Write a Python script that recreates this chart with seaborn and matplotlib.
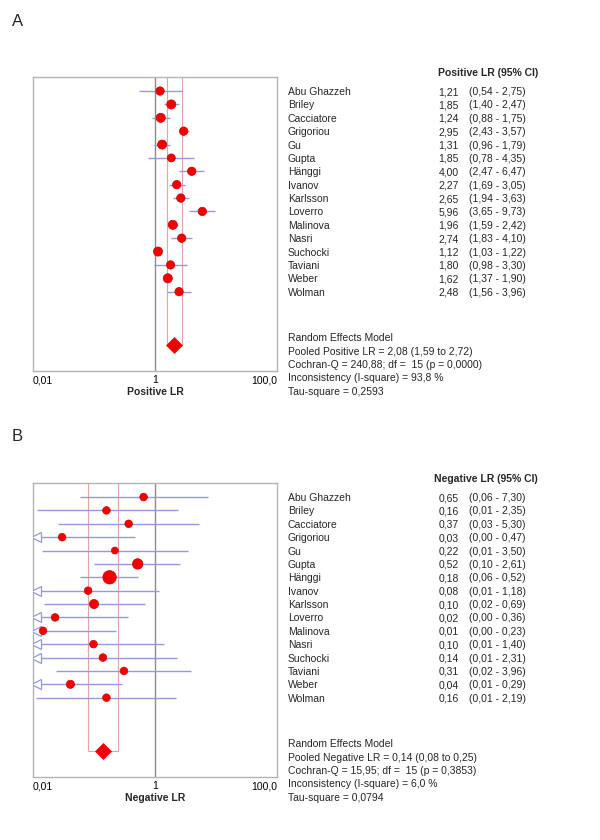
import matplotlib
matplotlib.use("Agg")
import matplotlib.pyplot as plt
import matplotlib.transforms as mtransforms
import numpy as np
import pandas as pd
import seaborn as sns

sns.set_theme(style="white")
plt.rcParams["font.family"] = ["Liberation Sans", "DejaVu Sans"]

studies = ["Abu Ghazzeh", "Briley", "Cacciatore", "Grigoriou", "Gu", "Gupta", "Hänggi",
           "Ivanov", "Karlsson", "Loverro", "Malinova", "Nasri", "Suchocki", "Taviani",
           "Weber", "Wolman"]

# positive likelihood ratios
pos_lr = [1.21, 1.85, 1.24, 2.95, 1.31, 1.85, 4.00, 2.27, 2.65, 5.96, 1.96, 2.74, 1.12, 1.80, 1.62, 2.48]
pos_lo = [0.54, 1.40, 0.88, 2.43, 0.96, 0.78, 2.47, 1.69, 1.94, 3.65, 1.59, 1.83, 1.03, 0.98, 1.37, 1.56]
pos_hi = [2.75, 2.47, 1.75, 3.57, 1.79, 4.35, 6.47, 3.05, 3.63, 9.73, 2.42, 4.10, 1.22, 3.30, 1.90, 3.96]
pos_weight = [11, 13, 13, 11, 13, 10, 11, 11, 11, 11, 13, 11, 13, 11, 13, 11]
pos_pooled = [2.08, 1.59, 2.72]
pos_summary = ["Random Effects Model",
               "Pooled Positive LR = 2,08 (1,59 to 2,72)",
               "Cochran-Q = 240,88; df =  15 (p = 0,0000)",
               "Inconsistency (I-square) = 93,8 %",
               "Tau-square = 0,2593"]

# negative likelihood ratios
neg_lr = [0.65, 0.16, 0.37, 0.030, 0.22, 0.52, 0.18, 0.08, 0.10, 0.023, 0.0146, 0.098, 0.14, 0.31, 0.041, 0.16]
neg_lo = [0.059, 0.0116, 0.0254, 0.004, 0.0142, 0.10, 0.06, 0.007, 0.0153, 0.002, 0.001, 0.007, 0.008, 0.024, 0.006, 0.0112]
neg_hi = [7.30, 2.35, 5.30, 0.47, 3.50, 2.61, 0.52, 1.18, 0.69, 0.36, 0.23, 1.40, 2.31, 3.96, 0.29, 2.19]
neg_weight = [9, 9, 9, 9, 7.5, 17, 28, 9, 13, 9, 9, 9, 9, 9, 10.5, 9]
neg_pooled = [0.14, 0.08, 0.25]
neg_summary = ["Random Effects Model",
               "Pooled Negative LR = 0,14 (0,08 to 0,25)",
               "Cochran-Q = 15,95; df =  15 (p = 0,3853)",
               "Inconsistency (I-square) = 6,0 %",
               "Tau-square = 0,0794"]

CI_COLOR = "#9898dc"
POOL_COLOR = "#e6a3a3"
RED = "#f20000"
FS = 7.5


def fmt(v):
    return f"{v:.2f}".replace(".", ",")


def forest(fig, ax, lr, lo, hi, weight, pooled, xlabel, header, summary):
    df = pd.DataFrame({"study": studies, "row": np.arange(len(studies)),
                       "lr": lr, "lo": lo, "hi": hi, "weight": weight})
    pool_row = len(studies) + 3
    top, bottom = -1.05, 20.93

    ax.set_xscale("log")
    ax.axvline(1, color="#8c8c8c", lw=1, zorder=1)
    ax.hlines(df["row"], df["lo"].clip(lower=0.01), df["hi"].clip(upper=100),
              color=CI_COLOR, lw=1, zorder=2)
    cut = df[df["lo"] < 0.01]
    ax.plot(np.full(len(cut), 0.01 * 10 ** 0.045), cut["row"], marker="<", ls="none",
            ms=6.5, mfc="white", mec=CI_COLOR, mew=0.9, zorder=3)

    # pooled estimate band
    ax.vlines(pooled[1:], top, pool_row, color=POOL_COLOR, lw=0.8, zorder=1)
    ax.hlines(pool_row, pooled[1], pooled[2], color=POOL_COLOR, lw=0.8, zorder=1)

    sns.scatterplot(data=df, x="lr", y="row", size="weight", sizes=(0, 100), size_norm=(0, 30),
                    color=RED, edgecolor="#cc0000", linewidth=0.5, legend=False, ax=ax, zorder=4)
    sns.scatterplot(x=[pooled[0]], y=[pool_row], marker="D", s=66, color=RED,
                    edgecolor=RED, linewidth=0.5, legend=False, ax=ax, zorder=5)

    ax.set_xlim(0.01, 100)
    ax.set_ylim(bottom, top)
    ax.set_yticks([])
    ax.set_ylabel("")
    ax.set_xticks([0.01, 1, 100])
    ax.set_xticklabels(["0,01", "1", "100,0"])
    ax.minorticks_off()
    ax.tick_params(axis="x", length=0, pad=3, labelsize=FS, colors="black")
    labels = ax.get_xticklabels()
    labels[0].set_ha("left")
    labels[-1].set_ha("right")
    ax.set_xlabel(xlabel, fontsize=FS, fontweight="bold", labelpad=1)
    for sp in ax.spines.values():
        sp.set_color("#b4b4b4")
        sp.set_linewidth(1)

    trans = mtransforms.blended_transform_factory(fig.transFigure, ax.transData)
    va = "center_baseline"
    ax.text(538 / 600, -1.42, header, transform=trans, fontsize=FS, fontweight="bold",
            ha="right", va=va)
    for _, r in df.iterrows():
        ax.text(288 / 600, r["row"], r["study"], transform=trans, fontsize=FS, va=va)
        ax.text(459 / 600, r["row"], fmt(r["lr"]), transform=trans, fontsize=FS,
                ha="right", va=va)
        ax.text(469 / 600, r["row"], f"({fmt(r['lo'])} - {fmt(r['hi'])})", transform=trans,
                fontsize=FS, va=va)
    for i, line in enumerate(summary):
        ax.text(288 / 600, 18.4 + i, line, transform=trans, fontsize=FS, va=va)


fig = plt.figure(figsize=(6, 8.4), dpi=100)
ax_a = fig.add_axes([33 / 600, 1 - 371 / 840, 244 / 600, 294 / 840])
ax_b = fig.add_axes([33 / 600, 1 - 777 / 840, 244 / 600, 294 / 840])

forest(fig, ax_a, pos_lr, pos_lo, pos_hi, pos_weight, pos_pooled,
       "Positive LR", "Positive LR (95% CI)", pos_summary)
forest(fig, ax_b, neg_lr, neg_lo, neg_hi, neg_weight, neg_pooled,
       "Negative LR", "Negative LR (95% CI)", neg_summary)

fig.text(12 / 600, 1 - 21 / 840, "A", fontsize=12, va="center")
fig.text(12 / 600, 1 - 436 / 840, "B", fontsize=12, va="center")

fig.savefig("out.png", dpi=100)
